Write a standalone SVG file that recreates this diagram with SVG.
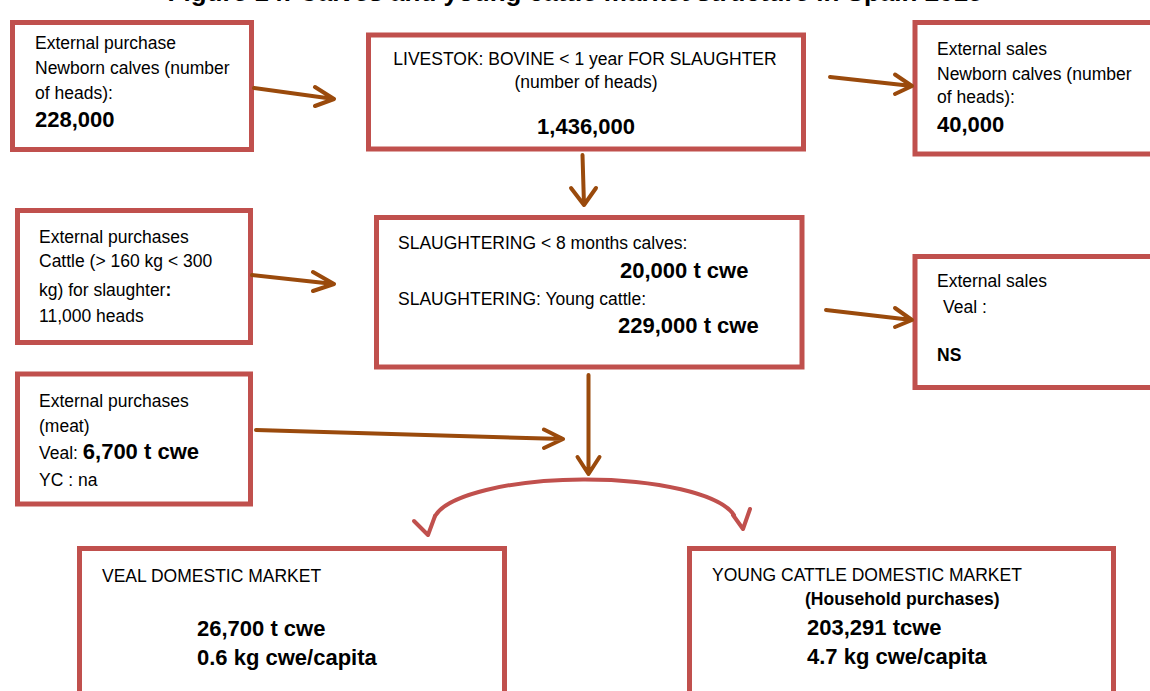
<svg xmlns="http://www.w3.org/2000/svg" width="1150" height="691" viewBox="0 0 1150 691">
<style>
.box{fill:#fff;stroke:#c0504d;stroke-width:5}
.t{font-family:"Liberation Sans",Arial,sans-serif;font-size:17.5px;fill:#000}
.b{font-family:"Liberation Sans",Arial,sans-serif;font-size:22px;font-weight:bold;fill:#000}
.bs{font-family:"Liberation Sans",Arial,sans-serif;font-size:17.5px;font-weight:bold;fill:#000}
.title{font-family:"Liberation Sans",Arial,sans-serif;font-size:26px;font-weight:bold;fill:#000}
.arr{fill:none;stroke:#9a4a0c;stroke-width:4;stroke-linecap:round;stroke-linejoin:round}
.curve{fill:none;stroke:#c0504d;stroke-width:4;stroke-linecap:round;stroke-linejoin:round}
</style>
<rect width="1150" height="691" fill="#fff"/>
<text class="title" x="575" y="1" text-anchor="middle">Figure 14: Calves and young cattle market structure in Spain 2015</text>

<g id="ext-purchase-calves">
<rect class="box" x="12.5" y="22.5" width="239" height="127"/>
<text class="t" x="35" y="49">External purchase</text>
<text class="t" x="35" y="74">Newborn calves (number</text>
<text class="t" x="35" y="99">of heads):</text>
<text class="b" x="35" y="127">228,000</text>
</g>

<g id="livestock">
<rect class="box" x="368.5" y="35" width="435" height="114"/>
<text class="t" x="585" y="65" text-anchor="middle">LIVESTOK: BOVINE &lt; 1 year FOR SLAUGHTER</text>
<text class="t" x="586" y="88" text-anchor="middle">(number of heads)</text>
<text class="b" x="586" y="134" text-anchor="middle">1,436,000</text>
</g>

<g id="ext-sales-calves">
<rect class="box" x="915" y="22.5" width="250" height="131.5"/>
<text class="t" x="937" y="55">External sales</text>
<text class="t" x="937" y="80">Newborn calves (number</text>
<text class="t" x="937" y="103">of heads):</text>
<text class="b" x="937" y="132">40,000</text>
</g>

<g id="ext-purchases-cattle">
<rect class="box" x="17.5" y="210.5" width="233" height="132"/>
<text class="t" x="39" y="243">External purchases</text>
<text class="t" x="39" y="267">Cattle (&gt; 160 kg &lt; 300</text>
<text class="t" x="39" y="296">kg) for slaughter<tspan font-weight="bold">:</tspan></text>
<text class="t" x="39" y="322">11,000 heads</text>
</g>

<g id="ext-purchases-meat">
<rect class="box" x="17.5" y="374" width="233" height="130"/>
<text class="t" x="39" y="407">External purchases</text>
<text class="t" x="39" y="432">(meat)</text>
<text class="t" x="39" y="459">Veal: <tspan font-size="22px" font-weight="bold">6,700 t cwe</tspan></text>
<text class="t" x="39" y="486">YC : na</text>
</g>

<g id="slaughtering">
<rect class="box" x="376.5" y="217.5" width="425.5" height="149.5"/>
<text class="t" x="398" y="249">SLAUGHTERING &lt; 8 months calves:</text>
<text class="b" x="620" y="278">20,000 t cwe</text>
<text class="t" x="398" y="305">SLAUGHTERING: Young cattle:</text>
<text class="b" x="618" y="333">229,000 t cwe</text>
</g>

<g id="ext-sales-veal">
<rect class="box" x="915" y="256.5" width="250" height="131"/>
<text class="t" x="937" y="287">External sales</text>
<text class="t" x="943" y="313">Veal :</text>
<text class="bs" x="937" y="361">NS</text>
</g>

<g id="veal-market">
<rect class="box" x="79.5" y="548.5" width="425" height="160"/>
<text class="t" x="102" y="582">VEAL DOMESTIC MARKET</text>
<text class="b" x="197" y="636">26,700 t cwe</text>
<text class="b" x="197" y="665">0.6 kg cwe/capita</text>
</g>

<g id="young-cattle-market">
<rect class="box" x="689.5" y="548.5" width="424" height="160"/>
<text class="t" x="712" y="581">YOUNG CATTLE DOMESTIC MARKET</text>
<text class="bs" x="805" y="605">(Household purchases)</text>
<text class="b" x="807" y="635">203,291 tcwe</text>
<text class="b" x="807" y="664">4.7 kg cwe/capita</text>
</g>

<g id="connectors">
<path class="arr" d="M254 88 L334 99 M315 87 L334 99 L315 106"/>
<path class="arr" d="M830 77 L912 86 M895 74.5 L912 86 L895 94"/>
<path class="arr" d="M582.5 155 L584 205 M571 188 L584 205 L596 188"/>
<path class="arr" d="M252 275 L334 284 M313 272 L334 284 L313 291"/>
<path class="arr" d="M256 430 L563 439 M544 429.5 L563 439 L544 448"/>
<path class="arr" d="M588.5 375 L588.5 474 M577.5 457 L588.5 474 L599.5 457"/>
<path class="arr" d="M826 310 L912 320 M895 308 L912 320 L895 327"/>
<path class="curve" d="M435 516 A152 44 0 0 1 734 515"/>
<path class="curve" d="M414 521 L428 535 L435 516"/>
<path class="curve" d="M733 515 L743 529 L750 509"/>
</g>
</svg>
